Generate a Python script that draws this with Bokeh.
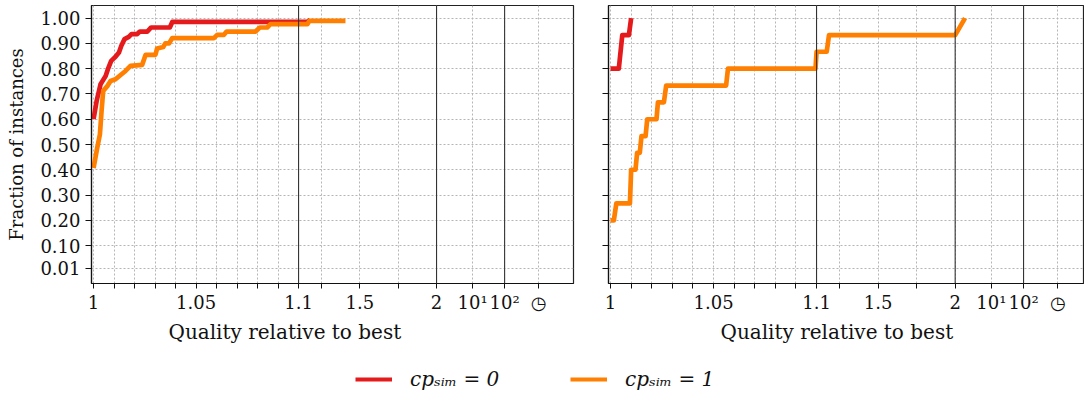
import numpy as np
from bokeh.plotting import figure
from bokeh.models import (Range1d, FixedTicker, CustomJSTickFormatter, NumeralTickFormatter,
                          Span, Title, Legend, LegendItem)
from bokeh.layouts import row, column
from bokeh.embed import file_html
from bokeh.resources import INLINE

# ---------------- data ----------------
SERIES_LABELS = ["cpₛᵢₘ = 0", "cpₛᵢₘ = 1"]
COLORS = ["#e41a1c", "#ff7f00"]

# left panel
left_cp0_x = [1.0, 1.0015, 1.0034, 1.0059, 1.0070, 1.0086, 1.0107, 1.0124, 1.0135, 1.0151,
              1.0172, 1.0185, 1.0213, 1.0226, 1.0262, 1.0281, 1.0372, 1.0384, 1.155, 1.175]
left_cp0_y = [0.600, 0.672, 0.738, 0.771, 0.798, 0.831, 0.847, 0.864, 0.890, 0.917,
              0.926, 0.937, 0.937, 0.947, 0.947, 0.963, 0.963, 0.985, 0.985, 0.993]
left_cp1_x = [1.0, 1.0018, 1.0031, 1.0039, 1.0047, 1.0067, 1.0083, 1.0107, 1.0132, 1.0156,
              1.0180, 1.0237, 1.0254, 1.0302, 1.0310, 1.0340, 1.0350, 1.0368, 1.0384, 1.0587,
              1.0603, 1.0636, 1.0649, 1.0790, 1.0811, 1.0847, 1.0863, 1.157, 1.170, 1.406]
left_cp1_y = [0.407, 0.487, 0.540, 0.632, 0.712, 0.731, 0.751, 0.758, 0.775, 0.791,
              0.811, 0.815, 0.855, 0.855, 0.880, 0.886, 0.900, 0.900, 0.921, 0.921,
              0.934, 0.934, 0.947, 0.947, 0.963, 0.963, 0.976, 0.976, 0.989, 0.989]

# right panel
right_cp0_x = [1.0, 1.0040, 1.0057, 1.0089, 1.0100]
right_cp0_y = [0.800, 0.800, 0.933, 0.933, 1.000]
right_cp1_x = [1.0, 1.0016, 1.0028, 1.0094, 1.0100, 1.0121, 1.0129, 1.0142, 1.0150, 1.0170,
               1.0178, 1.0223, 1.0230, 1.0259, 1.0270, 1.0561, 1.0570, 1.0995, 1.1003, 1.166,
               1.181, 2.0, 3.1]
right_cp1_y = [0.200, 0.200, 0.267, 0.267, 0.400, 0.400, 0.467, 0.467, 0.533, 0.533,
               0.600, 0.600, 0.667, 0.667, 0.733, 0.733, 0.800, 0.800, 0.867, 0.867,
               0.933, 0.933, 1.000]

X_TICK_VALUES = [1.0, 1.05, 1.1, 1.5, 2.0, 10.0, 100.0, None]   # None = timeout
X_TICK_LABELS = ["1", "1.05", "1.1", "1.5", "2", "10¹", "10²", "◷"]
X_MINOR_VALUES = [1.01, 1.02, 1.03, 1.04, 1.06, 1.07, 1.08, 1.09, 1.25, 1.75]
Y_TICKS = [0.01, 0.1, 0.2, 0.3, 0.4, 0.5, 0.6, 0.7, 0.8, 0.9, 1.0]
BREAKS = [1.1, 2.0, 100.0]


# piecewise axis: linear [1,1.1], linear [1.1,2], log [2,10], log [10,100], timeout slot
def u(x):
    x = np.asarray(x, dtype=float)
    s1 = (x - 1.0) * 100.0
    s2 = 10.0 + (x - 1.1) / 0.9 * 6.73
    s3 = 16.73 + np.log10(np.maximum(x, 1e-9) / 2.0) / np.log10(5.0) * 1.76
    s4 = 18.49 + np.log10(np.maximum(x, 1e-9) / 10.0) * 1.56
    return np.where(x <= 1.1, s1, np.where(x <= 2.0, s2, np.where(x <= 10.0, s3, s4)))


U_TIMEOUT = float(u(100.0)) + 1.66
major_u = [float(u(v)) if v is not None else U_TIMEOUT for v in X_TICK_VALUES]
minor_u = [float(u(v)) for v in X_MINOR_VALUES]

FONT = "DejaVu Serif"
FS = "18px"
FS_TITLE = "20px"
INK = "#111111"


def make_panel(width, min_left, min_right, x_end, show_ylabels, xs, ys, title_offset):
    p = figure(width=width, height=345, x_range=Range1d(-0.1, x_end), y_range=Range1d(-0.05, 1.05),
               output_backend="svg", toolbar_location=None,
               min_border_left=min_left, min_border_right=min_right,
               min_border_top=5, min_border_bottom=62)
    p.background_fill_color = "white"
    p.border_fill_color = "white"
    p.outline_line_color = "#222222"
    p.outline_line_width = 1.2

    p.xaxis.ticker = FixedTicker(ticks=major_u, minor_ticks=minor_u)
    p.xaxis.formatter = CustomJSTickFormatter(
        args=dict(us=major_u, labels=X_TICK_LABELS),
        code="for (let i = 0; i < us.length; i++) { if (Math.abs(us[i] - tick) < 1e-6) return labels[i]; } return '';")
    p.yaxis.ticker = FixedTicker(ticks=Y_TICKS, minor_ticks=[])
    if show_ylabels:
        p.yaxis.formatter = NumeralTickFormatter(format="0.00")
    else:
        p.yaxis.formatter = CustomJSTickFormatter(code="return '';")

    for ax in (p.xaxis, p.yaxis):
        ax.axis_line_color = INK
        ax.axis_line_width = 1.2
        ax.major_tick_line_color = INK
        ax.minor_tick_line_color = INK
        ax.major_tick_in = 0
        ax.minor_tick_in = 0
        ax.major_label_text_font = FONT
        ax.major_label_text_font_size = FS
        ax.major_label_text_color = INK
        ax.axis_label_text_font = FONT
        ax.axis_label_text_font_size = FS
        ax.axis_label_text_font_style = "normal"
        ax.axis_label_text_color = INK
    p.xaxis.major_tick_out = 5
    p.xaxis.minor_tick_out = 5
    p.xaxis.major_label_standoff = 3
    p.yaxis.major_tick_out = 6
    p.yaxis.major_label_standoff = 5

    if show_ylabels:
        p.yaxis.axis_label = "Fraction of instances"
        p.yaxis.axis_label_standoff = 10
    else:
        p.yaxis.major_label_standoff = 0

    for g in (p.xgrid, p.ygrid):
        g.grid_line_color = "#b5b5b5"
        g.grid_line_dash = "2 2"
        g.grid_line_width = 1
    p.xgrid.minor_grid_line_color = "#b5b5b5"
    p.xgrid.minor_grid_line_dash = "2 2"
    p.xgrid.minor_grid_line_width = 1

    for b in BREAKS:
        p.add_layout(Span(location=float(u(b)), dimension="height", line_color="#333333", line_width=1.1))

    for x, y, c in zip(xs, ys, COLORS):
        p.line(u(x), y, line_color=c, line_width=4.7, line_join="round")

    p.add_layout(Title(text="Quality relative to best", align="left", offset=title_offset,
                       text_font=FONT, text_font_size=FS_TITLE, text_font_style="normal",
                       text_color=INK, standoff=4), "below")
    return p


p1 = make_panel(591, 91, 18, 23.41, True, [left_cp0_x, left_cp1_x], [left_cp0_y, left_cp1_y], 77)
p2 = make_panel(493, 17, 1, 22.96, False, [right_cp0_x, right_cp1_x], [right_cp0_y, right_cp1_y], 112)

# legend strip
pl = figure(width=1084, height=51, x_range=Range1d(0, 1), y_range=Range1d(0, 1),
            output_backend="svg", toolbar_location=None,
            x_axis_location=None, y_axis_location=None,
            min_border_left=0, min_border_right=0, min_border_top=0, min_border_bottom=0)
pl.outline_line_color = None
pl.xgrid.visible = False
pl.ygrid.visible = False
for lab, c, xloc in zip(SERIES_LABELS, COLORS, [355, 570]):
    r = pl.line(x=[-5, -4], y=[-5, -4], line_color=c, line_width=4)
    leg = Legend(items=[LegendItem(label=lab, renderers=[r])], location=(xloc, 5),
                 glyph_width=37, glyph_height=20, label_height=20, label_standoff=18,
                 padding=0, margin=0, border_line_alpha=0, background_fill_alpha=0,
                 label_text_font=FONT, label_text_font_size=FS_TITLE, label_text_font_style="italic",
                 label_text_color=INK)
    pl.add_layout(leg)

layout = column(row(p1, p2), pl)
open("out.html", "w").write(file_html(layout, INLINE))
